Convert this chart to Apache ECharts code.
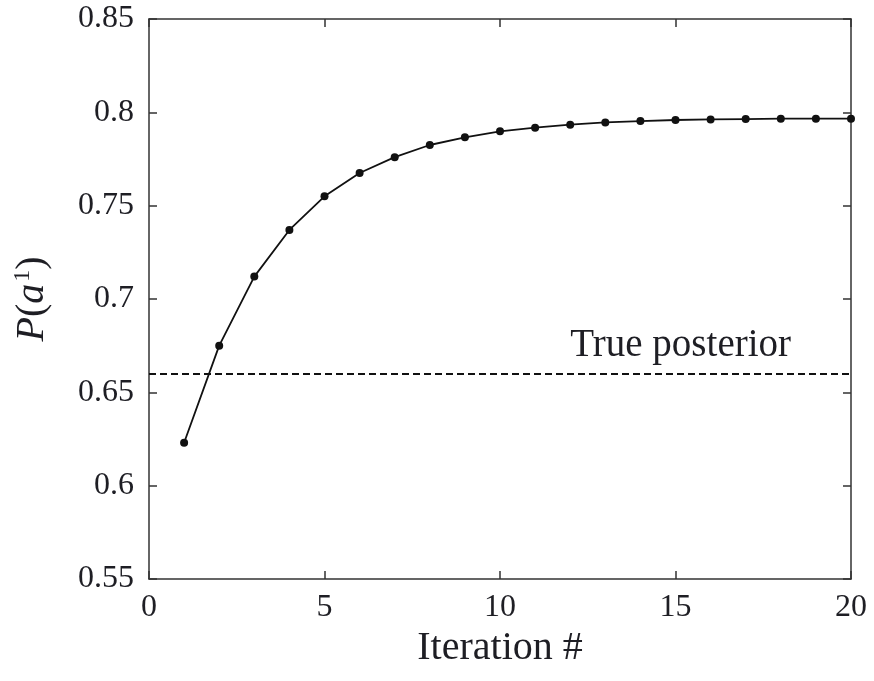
<!DOCTYPE html>
<html>
<head>
<meta charset="utf-8">
<script src="https://cdn.jsdelivr.net/npm/echarts@6/dist/echarts.min.js"></script>
<style>
  html, body { margin: 0; padding: 0; background: #fff; }
  #main { width: 874px; height: 681px; }
</style>
</head>
<body>
<div id="main"></div>
<script>
// 迭代次数与 P(a1) 的估计值
const iterations = [1, 2, 3, 4, 5, 6, 7, 8, 9, 10, 11, 12, 13, 14, 15, 16, 17, 18, 19, 20]
const probValues = [0.623, 0.675, 0.712, 0.737, 0.755, 0.7675, 0.776, 0.7825, 0.7866, 0.7898,
  0.7918, 0.7934, 0.7946, 0.7953, 0.7959, 0.7962, 0.7964, 0.7966, 0.7966, 0.7966]
const truePosterior = 0.66
const xTicks = [0, 20, 5]
const yTicks = [0.55, 0.85, 0.05]

const font = 'Liberation Serif'
const ink = '#1e1e24'

var myChart = echarts.init(document.getElementById('main'))

const axisLineStyle = { color: '#333', width: 1.5 }

myChart.setOption({
  animation: false,
  grid: { left: 149, right: 23, top: 19, bottom: 102 },
  xAxis: [
    {
      type: 'value',
      min: xTicks[0], max: xTicks[1], interval: xTicks[2],
      name: 'Iteration #',
      nameLocation: 'middle',
      nameGap: 37,
      nameTextStyle: { fontFamily: font, fontSize: 40, color: ink },
      axisLine: { show: true, onZero: false, lineStyle: axisLineStyle },
      axisTick: { show: true, inside: true, length: 8, lineStyle: axisLineStyle },
      axisLabel: { fontFamily: font, fontSize: 32, color: ink, margin: 13 },
      splitLine: { show: false }
    },
    {
      type: 'value', position: 'top',
      min: xTicks[0], max: xTicks[1], interval: xTicks[2],
      axisLine: { show: true, onZero: false, lineStyle: axisLineStyle },
      axisTick: { show: true, inside: true, length: 8, lineStyle: axisLineStyle },
      axisLabel: { show: false },
      splitLine: { show: false }
    }
  ],
  yAxis: [
    {
      type: 'value',
      min: yTicks[0], max: yTicks[1], interval: yTicks[2],
      name: '{i|P}({i|a}{s|1})',
      nameLocation: 'middle',
      nameGap: 96,
      nameRotate: 90,
      nameTextStyle: {
        fontFamily: font, fontSize: 40, color: ink,
        rich: {
          i: { fontFamily: font, fontSize: 40, fontStyle: 'italic', color: ink },
          s: { fontFamily: font, fontSize: 24, color: ink, verticalAlign: 'top', padding: [0, 0, 18, 2] }
        }
      },
      axisLine: { show: true, onZero: false, lineStyle: axisLineStyle },
      axisTick: { show: true, inside: true, length: 8, lineStyle: axisLineStyle },
      axisLabel: { fontFamily: font, fontSize: 32, color: ink, margin: 15 },
      splitLine: { show: false }
    },
    {
      type: 'value', position: 'right',
      min: yTicks[0], max: yTicks[1], interval: yTicks[2],
      axisLine: { show: true, onZero: false, lineStyle: axisLineStyle },
      axisTick: { show: true, inside: true, length: 8, lineStyle: axisLineStyle },
      axisLabel: { show: false },
      splitLine: { show: false }
    }
  ],
  series: [
    {
      type: 'line',
      data: iterations.map((x, i) => [x, probValues[i]]),
      symbol: 'circle',
      symbolSize: 8,
      lineStyle: { color: '#111', width: 1.8 },
      itemStyle: { color: '#111' },
      markLine: {
        silent: true,
        symbol: 'none',
        lineStyle: { color: '#111', width: 2, type: [7, 4] },
        label: {
          show: true,
          position: 'insideEndTop',
          formatter: 'True posterior',
          fontFamily: font,
          fontSize: 39,
          color: ink,
          distance: [60, 8]
        },
        data: [{ yAxis: truePosterior }]
      }
    }
  ]
})
</script>
</body>
</html>
